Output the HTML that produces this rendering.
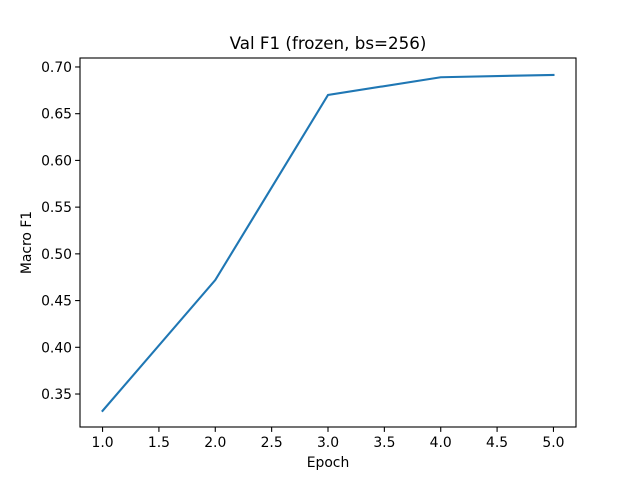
<!DOCTYPE html>
<html><head><meta charset="utf-8"><style>
body{margin:0;background:#fff;}
svg text{font-family:"DejaVu Sans","Liberation Sans",sans-serif;fill:#000;}
</style></head><body>
<svg id="chart" width="640" height="480" viewBox="0 0 640 480">
<rect width="640" height="480" fill="#fff"/>
<text x="328" y="49" font-size="16.7" text-anchor="middle">Val F1 (frozen, bs=256)</text>
<g id="axes"></g>
<text x="328" y="467" font-size="13.9" text-anchor="middle">Epoch</text>
<text transform="translate(31,242.5) rotate(-90)" font-size="13.9" text-anchor="middle">Macro F1</text>
</svg>
<script>
const epochs=[1,2,3,4,5];
const f1=[0.332,0.472,0.670,0.689,0.6915];
const xTicks=[1.0,1.5,2.0,2.5,3.0,3.5,4.0,4.5,5.0];
const yTicks=[0.35,0.40,0.45,0.50,0.55,0.60,0.65,0.70];
const L=80,R=576,T=58,B=427;
const xmin=0.8,xmax=5.2,ymin=0.3147,ymax=0.7096;
const sx=v=>L+(v-xmin)/(xmax-xmin)*(R-L);
const sy=v=>B-(v-ymin)/(ymax-ymin)*(B-T);
const NS="http://www.w3.org/2000/svg";
const g=document.getElementById('axes');
function mk(t,a){const e=document.createElementNS(NS,t);for(const k in a)e.setAttribute(k,a[k]);g.appendChild(e);return e;}
xTicks.forEach(v=>{
 const l=mk('line',{x1:sx(v),x2:sx(v),y1:B,y2:B+4.9,stroke:'#000','stroke-width':1.1});
 
 
 const t=mk('text',{x:sx(v),y:B+20,'font-size':13.9,'text-anchor':'middle'});t.textContent=v.toFixed(1);
 
 
});
yTicks.forEach(v=>{
 const l=mk('line',{x1:L-4.9,x2:L,y1:sy(v),y2:sy(v),stroke:'#000','stroke-width':1.1});
 
 
 const t=mk('text',{x:L-8,y:sy(v)+5,'font-size':13.9,'text-anchor':'end'});t.textContent=v.toFixed(2);
 
 
});
const p=mk('polyline',{points:epochs.map((e,i)=>sx(e)+','+sy(f1[i])).join(' '),fill:'none',stroke:'#1f77b4','stroke-width':2.1,'stroke-linecap':'square'});


const fr=mk('rect',{x:L,y:T,width:R-L,height:B-T,fill:'none',stroke:'#000','stroke-width':1.1});


</script>
</body></html>
